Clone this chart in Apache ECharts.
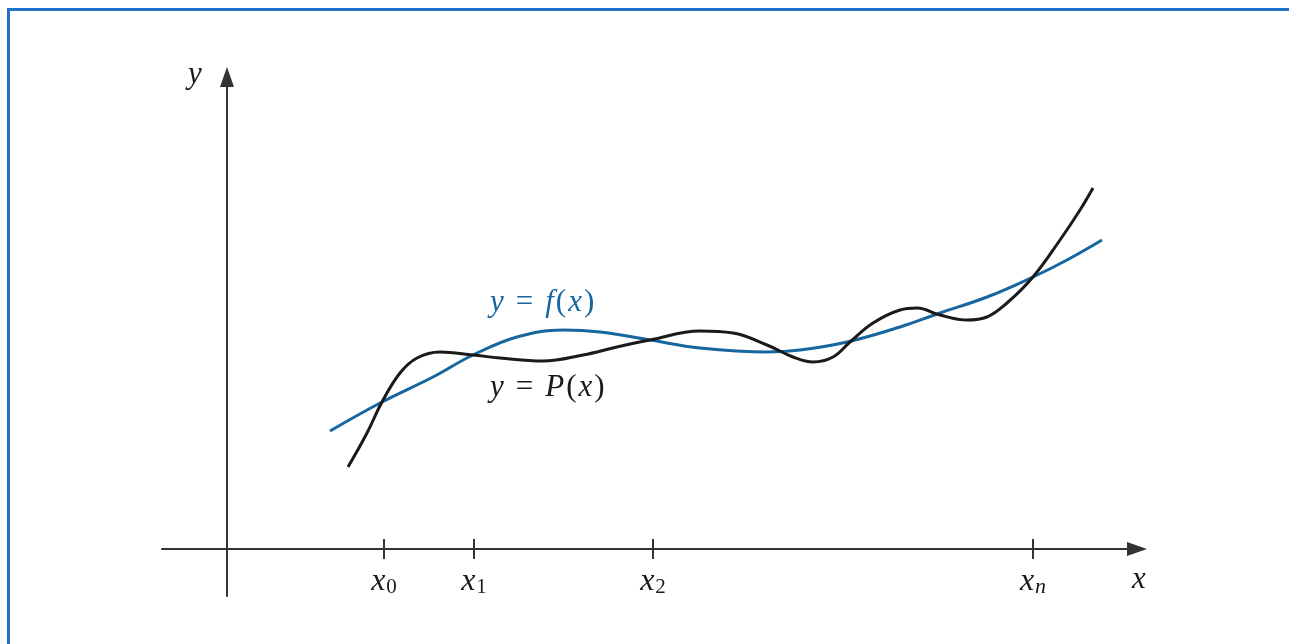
<!DOCTYPE html>
<html>
<head>
<meta charset="utf-8">
<script src="https://cdn.jsdelivr.net/npm/echarts@6/dist/echarts.min.js"></script>
<style>
html, body { margin: 0; padding: 0; background: #fff; }
#chart { width: 1289px; height: 644px; }
</style>
</head>
<body>
<div id="chart"></div>
<script>
// f(x): the function, [x, y]
var fCurve = [
	[1.03, 1.18], [1.55, 1.47], [2.06, 1.72], [2.46, 1.94], [2.90, 2.12],
	[3.36, 2.19], [3.73, 2.17], [4.23, 2.09], [4.73, 2.01], [5.40, 1.97],
	[5.73, 1.99], [6.20, 2.07], [6.73, 2.22], [7.13, 2.36], [7.60, 2.52],
	[8.06, 2.72], [8.40, 2.89], [8.75, 3.09]
];
// P(x): the interpolating polynomial, [x, y]
var pCurve = [
	[1.21, 0.82], [1.40, 1.16], [1.55, 1.47], [1.73, 1.76], [1.90, 1.91],
	[2.13, 1.97], [2.46, 1.94], [2.73, 1.91], [3.16, 1.88], [3.56, 1.94],
	[3.90, 2.02], [4.23, 2.09], [4.73, 2.18], [5.06, 2.16], [5.40, 2.04],
	[5.66, 1.92], [5.86, 1.87], [6.06, 1.92], [6.23, 2.07], [6.46, 2.26],
	[6.73, 2.39], [6.90, 2.41], [7.13, 2.34], [7.40, 2.29], [7.60, 2.32],
	[7.80, 2.46], [8.06, 2.72], [8.33, 3.09], [8.53, 3.39], [8.66, 3.61]
];
// nodes on the x axis and their labels
var nodeValues = [1.57, 2.47, 4.26, 8.06];
var nodeSubs = ['0', '1', '2', 'n'];

var serif = '"Liberation Serif", "DejaVu Serif", serif';
var blue = '#16669f';
var ink = '#1a1a1a';
var axisColor = '#333';

function mathRich(color) {
	return {
		i: { fontFamily: serif, fontStyle: 'italic', fontSize: 31, fill: color, padding: [0, 1, 0, 1] },
		e: { fontFamily: serif, fontSize: 31, fill: color, padding: [0, 11, 0, 11] },
		r: { fontFamily: serif, fontSize: 31, fill: color, padding: [0, 1, 0, 1] }
	};
}

var chart = echarts.init(document.getElementById('chart'));

var option = {
	backgroundColor: '#fff',
	animation: false,
	grid: { left: 162, right: 152, top: 77, bottom: 48 },
	graphic: [
		{
			type: 'rect', silent: true,
			shape: { x: 8.5, y: 9.5, width: 1400, height: 700 },
			style: { fill: 'none', stroke: '#1f72c9', lineWidth: 3 }
		},
		{
			type: 'text', left: 490, top: 287,
			style: { text: '{i|y}{e|=}{i|f}{r|(}{i|x}{r|)}', rich: mathRich(blue) }
		},
		{
			type: 'text', left: 490, top: 372,
			style: { text: '{i|y}{e|=}{i|P}{r|(}{i|x}{r|)}', rich: mathRich(ink) }
		}
	],
	xAxis: [
		{
			type: 'value', min: -0.65, max: 9.10,
			name: 'x', nameLocation: 'end', nameGap: 2,
			nameTextStyle: {
				fontFamily: serif, fontStyle: 'italic', fontSize: 31, color: ink,
				align: 'center', verticalAlign: 'top', padding: [15, 0, 0, 0]
			},
			axisLine: {
				onZero: true, onZeroAxisIndex: 0,
				symbol: ['none', 'triangle'], symbolSize: [14, 20],
				lineStyle: { color: axisColor, width: 2 }
			},
			axisTick: { show: true, customValues: nodeValues, length: 10, lineStyle: { color: axisColor, width: 2 } },
			axisLabel: {
				customValues: nodeValues, margin: -30,
				formatter: function (value) {
					var sub = nodeSubs[nodeValues.indexOf(value)];
					return '{i|x}{' + (/[a-z]/.test(sub) ? 'si' : 's') + '|' + sub + '}';
				},
				rich: {
					i: { fontFamily: serif, fontStyle: 'italic', fontSize: 32, lineHeight: 32, color: ink },
					s: { fontFamily: serif, fontSize: 21, lineHeight: 16, verticalAlign: 'bottom', color: ink, padding: [0, 0, 0, 1] },
					si: { fontFamily: serif, fontStyle: 'italic', fontSize: 22, lineHeight: 16, verticalAlign: 'bottom', color: ink, padding: [0, 0, 0, 1] }
				}
			},
			splitLine: { show: false }
		},
		{
			type: 'value', min: -0.65, max: 9.10, position: 'bottom',
			axisLine: { show: false, onZero: true, onZeroAxisIndex: 0 },
			axisTick: { show: true, inside: true, customValues: nodeValues, length: 10, lineStyle: { color: axisColor, width: 2 } },
			axisLabel: { show: false },
			splitLine: { show: false }
		}
	],
	yAxis: {
		type: 'value', min: -0.47, max: 4.72,
		name: 'y', nameLocation: 'end', nameGap: -13,
		nameTextStyle: { fontFamily: serif, fontStyle: 'italic', fontSize: 31, color: ink, padding: [0, 64, 0, 0] },
		axisLine: {
			onZero: true,
			symbol: ['none', 'triangle'], symbolSize: [14, 20],
			lineStyle: { color: axisColor, width: 2 }
		},
		axisTick: { show: false },
		axisLabel: { show: false },
		splitLine: { show: false }
	},
	series: [
		{
			name: 'f', type: 'line', data: fCurve, smooth: 0.4,
			showSymbol: false, silent: true,
			lineStyle: { color: blue, width: 3 }
		},
		{
			name: 'P', type: 'line', data: pCurve, smooth: 0.4,
			showSymbol: false, silent: true,
			lineStyle: { color: ink, width: 3 }
		}
	]
};

chart.setOption(option);
</script>
</body>
</html>
